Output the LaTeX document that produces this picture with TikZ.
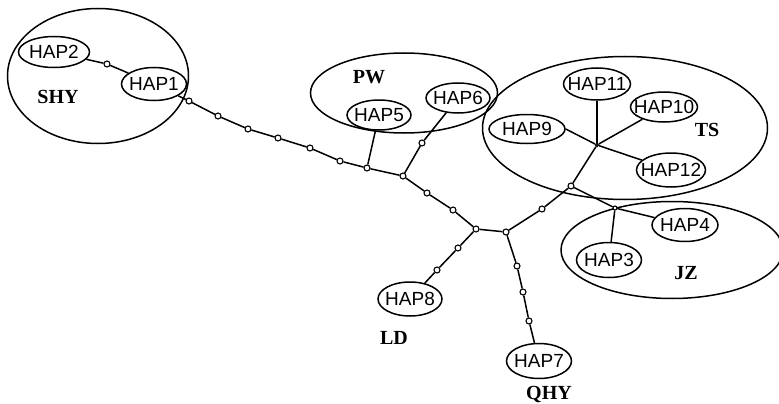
\documentclass[tikz,border=0pt]{standalone}
\usepackage{fontspec}
\newfontfamily\hapfont{Liberation Sans}
\newfontfamily\popfont{Liberation Serif}
\usetikzlibrary{shapes.geometric}

\begin{document}
\begin{tikzpicture}[x=1pt,y=-1pt,
    hap/.style={ellipse,draw,line width=1.5pt,inner sep=0pt,font=\hapfont\fontsize{19}{19}\selectfont},
    pop/.style={ellipse,draw,line width=1.5pt,inner sep=0pt},
    popname/.style={inner sep=0pt,font=\popfont\bfseries\fontsize{20}{20}\selectfont},
    knot/.style={circle,draw,fill=white,line width=1.1pt,inner sep=0pt,minimum size=6pt},
    link/.style={line width=1.5pt}]
                \clip (0,0) rectangle (779,404);

                % Drawing population ellipses
                \node [pop,minimum width=181pt,minimum height=135pt] (SHYring) at (98,76) {};
                \node [pop,minimum width=187pt,minimum height=80pt] (PWring) at (404,93) {};
                \node [pop,minimum width=285pt,minimum height=143pt] (TSring) at (625,128) {};
                \node [pop,minimum width=222pt,minimum height=97pt] (JZring) at (672,250) {};

                % Writing population names
                \node [popname] (SHY) at (58,97) {SHY};
                \node [popname] (PW) at (369,77) {PW};
                \node [popname] (TS) at (707,130) {TS};
                \node [popname] (JZ) at (686,273) {JZ};
                \node [popname] (LD) at (394,338) {LD};
                \node [popname] (QHY) at (549,394) {QHY};

                % Drawing haplotypes
                \node [hap,minimum width=65pt,minimum height=33pt] (HAP1) at (154,84) {\makebox[0pt]{HAP1}};
                \node [hap,minimum width=71pt,minimum height=31pt] (HAP2) at (54,52) {\makebox[0pt]{HAP2}};
                \node [hap,minimum width=65pt,minimum height=35pt] (HAP3) at (609,260) {\makebox[0pt]{HAP3}};
                \node [hap,minimum width=66pt,minimum height=33pt] (HAP4) at (685,225) {\makebox[0pt]{HAP4}};
                \node [hap,minimum width=64pt,minimum height=30pt] (HAP5) at (379,115) {\makebox[0pt]{HAP5}};
                \node [hap,minimum width=64pt,minimum height=30pt] (HAP6) at (458,98) {\makebox[0pt]{HAP6}};
                \node [hap,minimum width=65pt,minimum height=35pt] (HAP7) at (539,361) {\makebox[0pt]{HAP7}};
                \node [hap,minimum width=64pt,minimum height=34pt] (HAP8) at (410,299) {\makebox[0pt]{HAP8}};
                \node [hap,minimum width=76pt,minimum height=29pt] (HAP9) at (527,129) {\makebox[0pt]{HAP9}};
                \node [hap,minimum width=67pt,minimum height=30pt] (HAP10) at (664,107) {\makebox[0pt]{HAP10}};
                \node [hap,minimum width=67pt,minimum height=32pt] (HAP11) at (597,84) {\makebox[0pt]{HAP11}};
                \node [hap,minimum width=69pt,minimum height=34pt] (HAP12) at (671,170) {\makebox[0pt]{HAP12}};

                % Marking median vectors and mutation steps by circles
                \node [knot] (m1) at (107,64) {};
                \node [knot] (c1) at (189,101) {};
                \node [knot] (c2) at (218,116) {};
                \node [knot] (c3) at (248,129) {};
                \node [knot] (c4) at (278,138) {};
                \node [knot] (c5) at (310,148) {};
                \node [knot] (c6) at (340,161) {};
                \node [knot] (j1) at (367,168) {};
                \node [knot] (j2) at (403,176) {};
                \node [knot] (c7) at (422,143) {};
                \node [knot] (c8) at (427,193) {};
                \node [knot] (c9) at (453,210) {};
                \node [knot] (j3) at (476,229) {};
                \node [knot] (c10) at (458,248) {};
                \node [knot] (c11) at (437,270) {};
                \node [knot] (j4) at (506,232) {};
                \node [knot] (c12) at (517,266) {};
                \node [knot] (c13) at (523,292) {};
                \node [knot] (c14) at (529,321) {};
                \node [knot] (c15) at (542,209) {};
                \node [knot] (j5) at (571,186) {};
                \node [knot,minimum size=3pt] (j6) at (597,145) {};
                \node [knot,minimum size=4pt] (j7) at (615,208) {};

                % Drawing links between haplotypes
                \draw [link] (HAP2) -- (m1) -- (HAP1);
                \draw [link] (HAP1) -- (c1) -- (c2) -- (c3) -- (c4) -- (c5) -- (c6) -- (j1) -- (j2);
                \draw [link] (j1) -- (HAP5);
                \draw [link] (j2) -- (c7) -- (HAP6);
                \draw [link] (j2) -- (c8) -- (c9) -- (j3) -- (j4);
                \draw [link] (j3) -- (c10) -- (c11) -- (HAP8);
                \draw [link] (j4) -- (c12) -- (c13) -- (c14) -- (HAP7);
                \draw [link] (j4) -- (c15) -- (j5) -- (j6);
                \draw [link] (j6) -- (HAP9.east);
                \draw [link] (j6) -- (HAP11);
                \draw [link] (j6) -- (HAP10);
                \draw [link] (j6) -- (HAP12);
                \draw [link] (j5) -- (j7) -- (HAP4);
                \draw [link] (j7) -- (HAP3);
\end{tikzpicture}
\end{document}
